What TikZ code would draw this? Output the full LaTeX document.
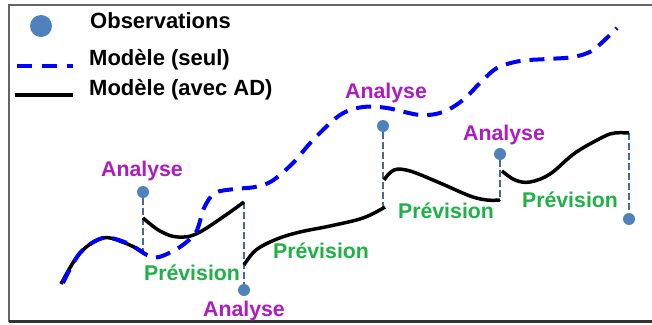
\documentclass[tikz,border=0pt]{standalone}
\usepackage{fontspec}
\setmainfont{Liberation Sans}
\definecolor{obsblue}{RGB}{79,129,189}
\definecolor{vlineblue}{RGB}{70,105,150}
\definecolor{anacol}{RGB}{172,28,192}
\definecolor{prevcol}{RGB}{32,176,72}
\definecolor{framegray}{RGB}{100,100,100}
\begin{document}
\begin{tikzpicture}[x=1pt,y=-1pt,
  lbl/.style={font=\fontsize{21.3}{25}\selectfont\bfseries, inner sep=0pt},
  ana/.style={lbl, text=anacol, anchor=base},
  prev/.style={lbl, text=prevcol, anchor=base},
  leg/.style={font=\fontsize{22}{26}\selectfont\bfseries, inner sep=0pt, text=black, anchor=base west},
  obs/.style={circle, fill=obsblue, inner sep=0pt, minimum size=12pt},
  vl/.style={vlineblue, line width=1.2pt, dash pattern=on 7pt off 3pt},
  model/.style={black, line width=3.5pt},
  seul/.style={blue, line width=4pt, dash pattern=on 15pt off 9pt}]
\useasboundingbox (0,0) rectangle (652,324);
% frame
\draw[framegray, line width=2pt] (652,4.5) -- (8.5,4.5) -- (8.5,321.5);
\draw[black!80, line width=2.2pt] (8.5,321.5) -- (652,321.5);
% legend
\node[circle, fill=obsblue, inner sep=0pt, minimum size=22pt] (legobs) at (41,26) {};
\node[leg] (tobs) at (90,28) {Observations};
\coordinate (ls1) at (17,66); \coordinate (ls2) at (73,66);
\draw[blue, line width=4pt, dash pattern=on 15pt off 10pt] (ls1) -- (ls2);
\node[leg] (tseul) at (89,65) {Modèle (seul)};
\coordinate (la1) at (15,95); \coordinate (la2) at (73,95);
\draw[model, line width=4pt] (la1) -- (la2);
\node[leg] (tad) at (89,95) {Modèle (avec AD)};
% observations
\node[obs] (o1) at (143,192) {};
\node[obs] (o2) at (244,290) {};
\node[obs] (o3) at (383,126) {};
\node[obs] (o4) at (500,154) {};
\node[obs] (o5) at (629,219) {};
% curve ends
\coordinate (e1) at (143,252);
\coordinate (e2) at (244,202);
\coordinate (e3) at (383,208);
\coordinate (e4) at (500,201);
\coordinate (e5) at (629,133);
% vertical lines
\draw[vl] (o1) -- (e1);
\draw[vl] (e2) -- (o2);
\draw[vl] (o3) -- (e3);
\draw[vl] (o4) -- (e4);
\draw[vl] (e5) -- (o5);
% model with DA
\draw[model] plot[smooth, tension=0.6] coordinates {(61,284) (80,253) (103,238) (125,243) (143,252)};
\draw[model] plot[smooth, tension=0.6] coordinates {(143,218) (160,231) (178,237) (200,232) (244,202)};
\draw[model] plot[smooth, tension=0.6] coordinates {(244,265) (256,250) (277,239) (300,232) (330,226) (363,218) (385,207)};
\draw[model] plot[smooth, tension=0.6] coordinates {(384,180) (394,170) (410,171) (440,183) (470,196) (487,200) (500,200)};
\draw[model] plot[smooth, tension=0.6] coordinates {(502,171) (515,180) (530,182) (550,174) (575,153) (603,137) (615,133) (629,133)};
% model alone
\draw[seul] plot[smooth, tension=0.55] coordinates {(63,283) (80,253) (103,238) (127,243) (147,255) (159,257) (180,247) (196,232) (204,208) (215,193) (235,189) (255,187) (272,181) (293,163) (313,140) (340,115) (363,107) (387,108) (420,115) (443,112) (463,100) (480,83) (497,68) (520,61) (547,59) (573,57) (593,50) (617,28)};
% labels
\node[ana] (a1) at (142,176) {Analyse};
\node[ana] (a2) at (244,316) {Analyse};
\node[ana] (a3) at (386,98) {Analyse};
\node[ana] (a4) at (504,140) {Analyse};
\node[prev] (p1) at (192,280) {Prévision};
\node[prev] (p2) at (321,258) {Prévision};
\node[prev] (p3) at (446,218) {Prévision};
\node[prev] (p4) at (570,207) {Prévision};
\end{tikzpicture}
\end{document}
